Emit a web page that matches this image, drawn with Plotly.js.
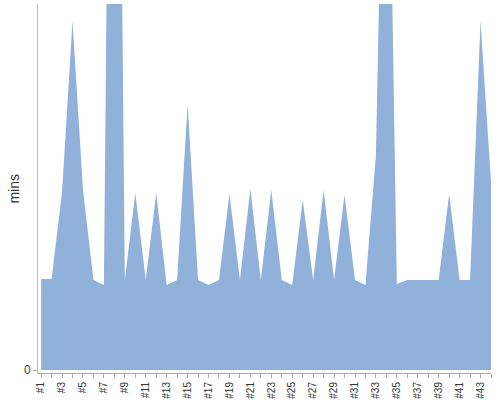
<!DOCTYPE html>
<html>
<head>
<meta charset="utf-8">
<script src="https://cdn.plot.ly/plotly-3.0.1.min.js"></script>
<style>html,body{margin:0;padding:0;background:#fff;}#chart{width:500px;height:400px;}</style>
</head>
<body>
<div id="chart"></div>
<script>
var categories = ["#1","#2","#3","#4","#5","#6","#7","#8","#9","#10","#11","#12","#13","#14","#15","#16","#17","#18","#19","#20","#21","#22","#23","#24","#25","#26","#27","#28","#29","#30","#31","#32","#33","#34","#35","#36","#37","#38","#39","#40","#41","#42","#43","#44"];
var mins = [9.1,9.1,17.8,34.9,18.0,9.0,8.5,121.8,9.0,17.7,9.0,17.7,8.5,9.0,26.6,9.0,8.5,9.0,17.6,9.0,18.1,9.0,18.0,9.0,8.5,17.0,9.0,18.0,9.0,17.5,9.0,8.5,21.5,73.7,8.6,9.0,9.0,9.0,9.0,17.6,9.0,9.0,34.9,18.8];
var tickLabels = ["#1","","#3","","#5","","#7","","#9","","#11","","#13","","#15","","#17","","#19","","#21","","#23","","#25","","#27","","#29","","#31","","#33","","#35","","#37","","#39","","#41","","#43",""];
var yTickVals = [0];
var yTickText = ["0"];
var yTitle = 'mins';

var trace = {
  x: categories,
  y: mins,
  type: 'scatter',
  mode: 'lines',
  fill: 'tozeroy',
  fillcolor: '#8fb1da',
  line: {width: 0, color: '#8fb1da'},
  hoverinfo: 'x+y'
};

var layout = {
  width: 500,
  height: 400,
  margin: {l: 38, r: 9, t: 4, b: 27},
  paper_bgcolor: '#ffffff',
  plot_bgcolor: '#ffffff',
  showlegend: false,
  font: {family: 'Liberation Sans, Arial, sans-serif', color: '#333'},
  xaxis: {
    type: 'category',
    range: [-0.3, 43],
    tickvals: categories,
    ticktext: tickLabels,
    tickangle: -90,
    tickfont: {size: 10, color: '#333'},
    ticks: 'outside',
    ticklen: 4,
    tickcolor: '#aaa',
    showline: true,
    linecolor: '#aaa',
    linewidth: 1,
    showgrid: false,
    zeroline: false,
    automargin: false,
    fixedrange: true
  },
  yaxis: {
    range: [-0.3, 36.6],
    tickvals: yTickVals,
    ticktext: yTickText,
    tickfont: {size: 12, color: '#444'},
    ticks: 'outside',
    ticklen: 4,
    tickcolor: '#aaa',
    showline: true,
    linecolor: '#bbb',
    linewidth: 1,
    showgrid: false,
    zeroline: false,
    automargin: false,
    fixedrange: true
  },
  annotations: [{
    text: yTitle,
    xref: 'paper', yref: 'paper',
    x: -0.055, y: 0.5,
    xanchor: 'center', yanchor: 'middle',
    textangle: -90,
    showarrow: false,
    font: {size: 14, color: '#333'}
  }]
};

Plotly.newPlot('chart', [trace], layout, {displayModeBar: false, staticPlot: true});
</script>
</body>
</html>
